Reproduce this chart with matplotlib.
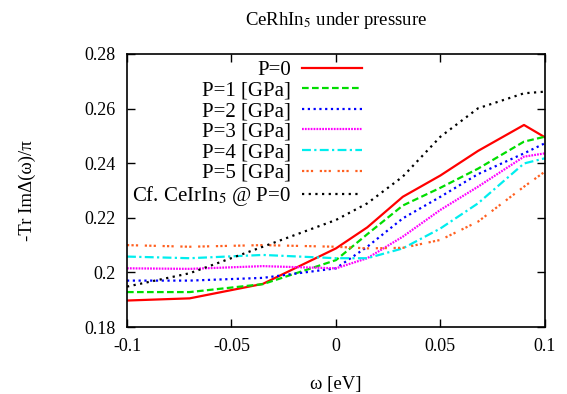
import matplotlib
matplotlib.use('Agg')
import matplotlib.pyplot as plt

plt.rcParams['font.family'] = ['Liberation Serif', 'DejaVu Serif']
plt.rcParams['mathtext.fontset'] = 'stix'
plt.rcParams['axes.unicode_minus'] = False

# frequency grid (eV) and curves
w = [-0.1, -0.07, -0.035, 0.0, 0.015, 0.032, 0.05, 0.068, 0.09, 0.1]
p0 = [0.1897, 0.1905, 0.1958, 0.2088, 0.2165, 0.2277, 0.2355, 0.2445, 0.2540, 0.2495]
p1 = [0.1928, 0.1928, 0.1957, 0.2045, 0.2140, 0.2245, 0.2310, 0.2380, 0.2479, 0.2497]
p2 = [0.1970, 0.1970, 0.1980, 0.2015, 0.2094, 0.2198, 0.2277, 0.2360, 0.2436, 0.2473]
p3 = [0.2015, 0.2013, 0.2023, 0.2015, 0.2052, 0.2131, 0.2229, 0.2314, 0.2424, 0.2436]
p4 = [0.2058, 0.2052, 0.2064, 0.2052, 0.2052, 0.2088, 0.2161, 0.2253, 0.2399, 0.2418]
p5 = [0.2100, 0.2094, 0.2100, 0.2094, 0.2088, 0.2090, 0.2119, 0.2186, 0.2314, 0.2369]
ir = [0.1948, 0.1997, 0.2094, 0.2192, 0.2253, 0.2351, 0.2497, 0.2601, 0.2656, 0.2662]

labels = ['P=0', 'P=1 [GPa]', 'P=2 [GPa]', 'P=3 [GPa]', 'P=4 [GPa]', 'P=5 [GPa]',
          'Cf. CeIrIn$_5$ @ P=0']

fig = plt.figure(figsize=(5.67, 3.94), dpi=100)
ax = fig.add_axes([0.224, 0.170, 0.737, 0.693])

ax.plot(w, p0, color='#ff0000', lw=1.6, label=labels[0])
ax.plot(w, p1, color='#00dd00', lw=1.6, dashes=(3, 1.5), label=labels[1])
ax.plot(w, p2, color='#0000ff', lw=1.6, dashes=(1, 1.6), label=labels[2])
ax.plot(w, p3, color='#ff00ff', lw=1.6, dashes=(0.8, 0.5), label=labels[3])
ax.plot(w, p4, color='#00eeee', lw=1.6, dashes=(4, 1.5, 1, 1.5), label=labels[4])
ax.plot(w, p5, color='#ff6020', lw=1.6, dashes=(1, 1, 1, 1, 1, 3), label=labels[5])
ax.plot(w, ir, color='#000000', lw=1.6, dashes=(1, 2), label=labels[6])

ax.set_xlim(-0.1, 0.1)
ax.set_ylim(0.18, 0.28)
xt = [-0.1, -0.05, 0, 0.05, 0.1]
yt = [0.18, 0.2, 0.22, 0.24, 0.26, 0.28]
ax.set_xticks(xt)
ax.set_xticklabels(['%g' % v for v in xt])
ax.set_yticks(yt)
ax.set_yticklabels(['%g' % v for v in yt])
ax.tick_params(direction='in', top=True, right=True, length=6, width=1,
               labelsize=13, pad=8)
for s in ax.spines.values():
    s.set_linewidth(1.2)

ax.set_xlabel('ω [eV]', fontsize=13.5, labelpad=15)
ax.set_ylabel('-Tr ImΔ(ω)/π', fontsize=13.5, labelpad=35)
ax.set_title('CeRhIn$_5$ under pressure', fontsize=13.5, pad=21)

ax.legend(loc='upper right', bbox_to_anchor=(0.562, 0.977), frameon=False,
          markerfirst=False, alignment='right', fontsize=15,
          handlelength=2.85, handletextpad=0.55, labelspacing=0.05,
          borderpad=0, borderaxespad=0)

fig.savefig('out.png', dpi=100)
